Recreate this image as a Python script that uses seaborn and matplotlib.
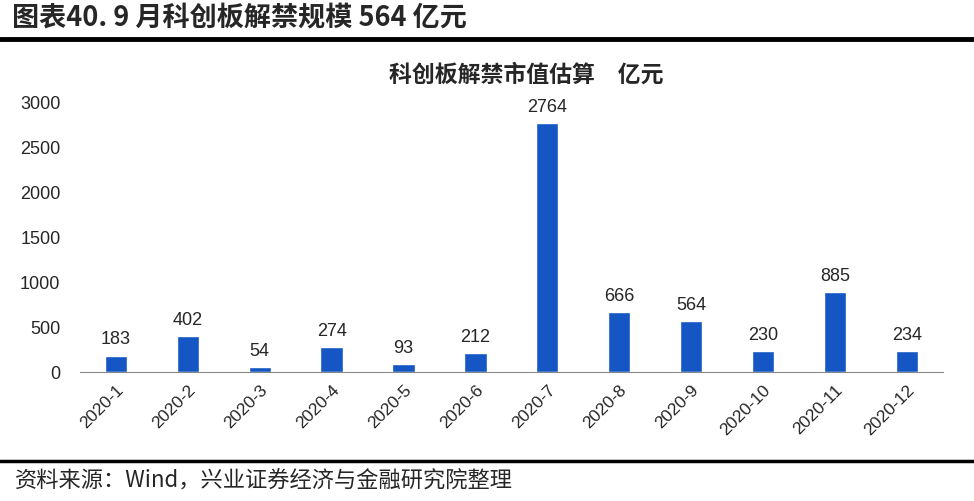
import matplotlib
matplotlib.use("Agg")
import numpy as np
import pandas as pd
import seaborn as sns
import matplotlib.pyplot as plt
from matplotlib.lines import Line2D

months = ["2020-1", "2020-2", "2020-3", "2020-4", "2020-5", "2020-6",
          "2020-7", "2020-8", "2020-9", "2020-10", "2020-11", "2020-12"]
values = [183, 402, 54, 274, 93, 212, 2764, 666, 564, 230, 885, 234]
yticks = [0, 500, 1000, 1500, 2000, 2500, 3000]

sns.set_style("white")
plt.rcParams["font.family"] = ["Liberation Sans", "Noto Sans CJK SC", "DejaVu Sans"]

df = pd.DataFrame({"month": months, "value": values})

fig = plt.figure(figsize=(9.74, 5.02), dpi=100)
ax = fig.add_axes([0.082, 0.257, 0.886, 0.538])

sns.barplot(data=df, x="month", y="value", color="#1456C4", width=0.31,
            saturation=1, ax=ax)

# 数值标签
for i, v in enumerate(values):
    ax.text(i, v + 90, str(v), ha="center", va="bottom", fontsize=13)

ax.set_ylim(0, 3000)
ax.set_xlim(-0.5, len(months) - 0.5)
ax.set_yticks(yticks)
ax.set_yticklabels([str(t) for t in yticks], fontsize=13)
ax.tick_params(axis="y", length=0, pad=14)

ax.set_xticks(range(len(months)))
ax.set_xticklabels(months, rotation=45, ha="right", rotation_mode="anchor", fontsize=12.5)
ax.tick_params(axis="x", which="major", length=0, pad=7)
ax.set_xticks(np.arange(-0.5, len(months)), minor=True)
ax.tick_params(axis="x", which="minor", length=5, color="#888888", width=1)
ax.set_xlabel("")
ax.set_ylabel("")

for s in ["top", "right", "left"]:
    ax.spines[s].set_visible(False)
ax.spines["bottom"].set_color("#888888")

fig.text(0.54, 0.85, "科创板解禁市值估算　亿元", ha="center", va="center",
         fontsize=16.5, fontweight="bold", family=["Noto Sans CJK SC", "DejaVu Sans"])

fig.text(0.012, 0.963, "图表40. 9 月科创板解禁规模 564 亿元", ha="left", va="center",
         fontsize=19.5, fontweight="bold", family=["Noto Sans CJK SC", "DejaVu Sans"])
fig.add_artist(Line2D([0, 1], [0.92, 0.92], color="black", lw=3.5,
                      transform=fig.transFigure))
fig.add_artist(Line2D([0, 1], [0.079, 0.079], color="black", lw=2.5,
                      transform=fig.transFigure))
fig.text(0.015, 0.042, "资料来源：Wind，兴业证券经济与金融研究院整理", ha="left", va="center",
         fontsize=16, family=["Noto Sans CJK SC", "DejaVu Sans"])

fig.savefig("out.png", dpi=100)
